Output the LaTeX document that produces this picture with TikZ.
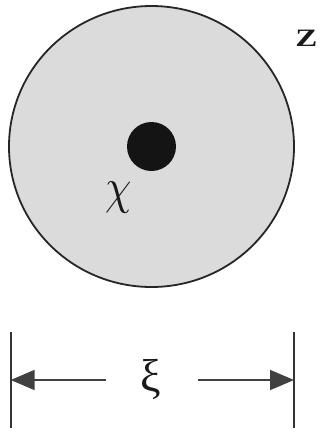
\documentclass[tikz,border=0pt]{standalone}
\usepackage{fontspec}
\setmainfont{Liberation Serif}
\usetikzlibrary{arrows.meta}
\begin{document}
\begin{tikzpicture}[x=1pt,y=-1pt,
  outline/.style={line width=1.8pt,draw=black!85},
  dim/.style={line width=1.8pt,draw=black!80},
  dimarrow/.style={line width=1.8pt,draw=black!75,-{Triangle[length=24pt,width=20pt]}},
  lbl/.style={inner sep=0pt,text=black!90}]
\useasboundingbox (0,0) rectangle (320,432);
\fill[white] (0,0) rectangle (320,432);
\draw[outline,fill=black!14] (151.5,146.5) ellipse [x radius=142.5,y radius=140.5];
\node[circle,fill=black!92,minimum size=49pt,inner sep=0pt] (dot) at (151.5,146.5) {};
\node[lbl] (chi) at (119,198) {\scalebox{4.2}[5.0]{$\chi$}};
\node[lbl] (z) at (306.5,38.5) {\scalebox{3.3}[2.5]{\bfseries Z}};
\node[lbl,font=\fontsize{46pt}{50pt}\selectfont] (xi) at (151,379.5) {ξ};
\coordinate (lt) at (10.7,332);
\coordinate (lb) at (10.7,428);
\coordinate (rt) at (294,332);
\coordinate (rb) at (294,428);
\draw[dim] (lt) -- (lb);
\draw[dim] (rt) -- (rb);
\coordinate (la) at (10.7,380);
\coordinate (ra) at (294,380);
\coordinate (ls) at (106,380);
\coordinate (rs) at (198,380);
\draw[dimarrow] (ls) -- (la);
\draw[dimarrow] (rs) -- (ra);
\end{tikzpicture}
\end{document}
